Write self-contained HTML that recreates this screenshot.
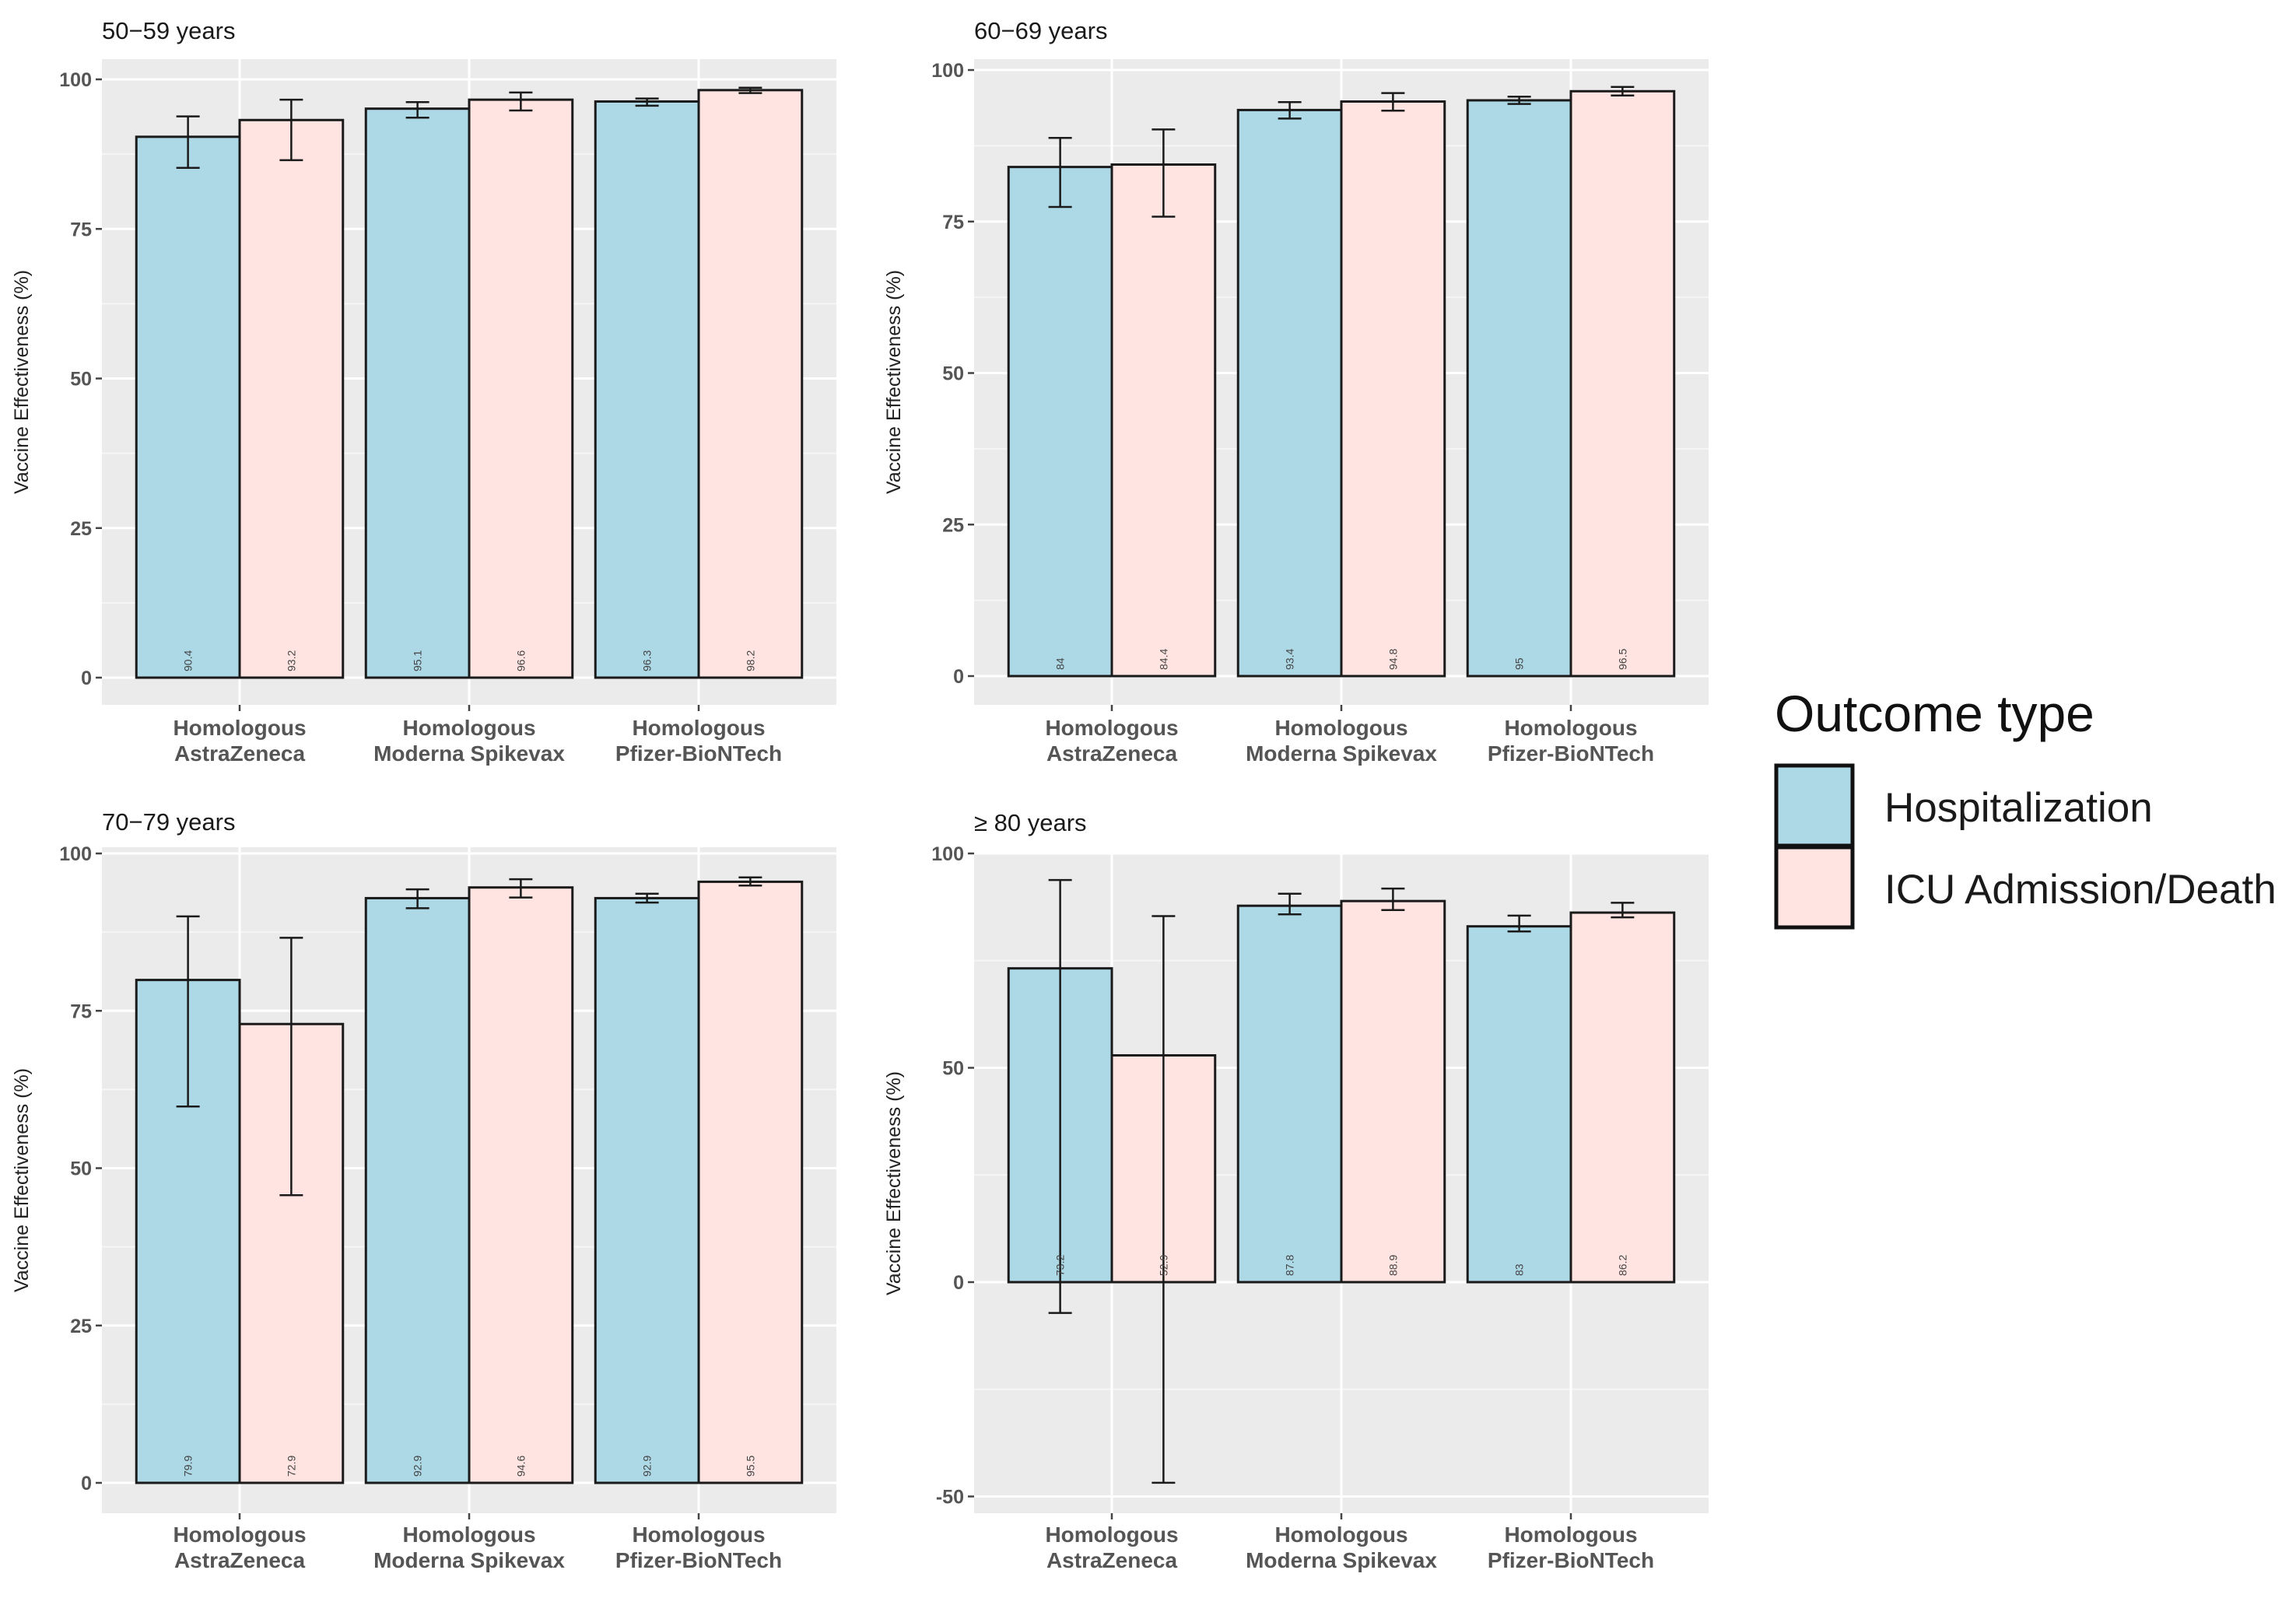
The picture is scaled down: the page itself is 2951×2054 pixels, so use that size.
<!DOCTYPE html>
<html><head><meta charset="utf-8"><style>
html,body{margin:0;padding:0;background:#fff;}
svg{display:block;font-family:"Liberation Sans",Arial,sans-serif;}
</style></head><body>
<svg id="chart" width="2951" height="2054" viewBox="0 0 2951 2054" xmlns="http://www.w3.org/2000/svg">
<rect x="0" y="0" width="2951" height="2054" fill="#ffffff"/>
<g id="panels"></g>
<g>
  <text x="2281" y="940" font-size="66" fill="#111">Outcome type</text>
  <rect x="2283" y="984" width="98" height="103" fill="#ADD8E6" stroke="#111" stroke-width="5"/>
  <rect x="2283" y="1089" width="98" height="103" fill="#FFE4E1" stroke="#111" stroke-width="5"/>
  <text x="2422" y="1056" font-size="53" fill="#1a1a1a">Hospitalization</text>
  <text x="2422" y="1161" font-size="53" fill="#1a1a1a">ICU Admission/Death</text>
</g>
</svg>
<script>
const categories = ["Homologous|AstraZeneca","Homologous|Moderna Spikevax","Homologous|Pfizer-BioNTech"];
const panelTitles = ["50\u221259 years","60\u221269 years","70\u221279 years","\u2265 80 years"];
const hospValues = [[90.4,95.1,96.3],[84,93.4,95],[79.9,92.9,92.9],[73.2,87.8,83]];
const icuValues  = [[93.2,96.6,98.2],[84.4,94.8,96.5],[72.9,94.6,95.5],[52.9,88.9,86.2]];
const hospLow  = [[85.2,93.6,95.6],[77.4,92.0,94.4],[59.8,91.3,92.2],[-7.2,85.8,81.8]];
const hospHigh = [[93.8,96.2,96.8],[88.8,94.7,95.6],[90.0,94.3,93.6],[93.8,90.6,85.5]];
const icuLow   = [[86.5,94.8,97.7],[75.8,93.3,95.8],[45.7,93.0,94.9],[-46.8,86.8,85.1]];
const icuHigh  = [[96.6,97.8,98.6],[90.2,96.2,97.2],[86.6,95.9,96.2],[85.4,91.8,88.5]];
const tickLabels = [[0,25,50,75,100],[0,25,50,75,100],[0,25,50,75,100],[-50,0,50,100]];
const hospLabels = [["90.4","95.1","96.3"],["84","93.4","95"],["79.9","92.9","92.9"],["73.2","87.8","83"]];
const icuLabels  = [["93.2","96.6","98.2"],["84.4","94.8","96.5"],["72.9","94.6","95.5"],["52.9","88.9","86.2"]];

const layout = [
  {x:131,w:944,top:76,bot:906,y0:871,y100:102,tb:50,lb:945},
  {x:1252,w:944,top:76,bot:906,y0:869,y100:90,tb:50,lb:945},
  {x:131,w:944,top:1089,bot:1945,y0:1906,y100:1097,tb:1067,lb:1982},
  {x:1252,w:944,top:1097,bot:1945,y0:1648,y100:1097,tb:1068,lb:1982}
];
const NS="http://www.w3.org/2000/svg";
const root=document.getElementById('panels');
function mk(tag,attrs,parent){const e=document.createElementNS(NS,tag);for(const k in attrs)e.setAttribute(k,attrs[k]);parent.appendChild(e);return e;}

layout.forEach((L,p)=>{
  const g=mk('g',{},root);
  
  
  const yS=v=>L.y0-(v/100)*(L.y0-L.y100);
  const step=L.w/3.2;
  const xC=i=>L.x+step*(0.6+i);
  const bw=step*0.45;
  const bg=mk('rect',{x:L.x,y:L.top,width:L.w,height:L.bot-L.top,fill:'#EBEBEB'},g);
  
  
  const ticks=tickLabels[p];
  const tstep=ticks[1]-ticks[0];
  for(let i=0;i<=ticks.length;i++){
    const v=ticks[0]+tstep*(i-0.5);
    const y=yS(v);
    if(y>L.top&&y<L.bot){const m=mk('line',{x1:L.x,x2:L.x+L.w,y1:y,y2:y,stroke:'#F6F6F6','stroke-width':2},g);
      
      }
  }
  ticks.forEach(v=>{
    const y=yS(v);
    const gl=mk('line',{x1:L.x,x2:L.x+L.w,y1:y,y2:y,stroke:'#ffffff','stroke-width':3},g);
    
    
    const tk=mk('line',{x1:L.x-8,x2:L.x,y1:y,y2:y,stroke:'#444','stroke-width':2.5},g);
    
    
    const tl=mk('text',{x:L.x-13,y:y+9,'font-size':25,'font-weight':'bold','text-anchor':'end',fill:'#555'},g);
    tl.textContent=String(v);
    
    
  });
  categories.forEach((c,i)=>{
    const x=xC(i);
    const vg=mk('line',{x1:x,x2:x,y1:L.top,y2:L.bot,stroke:'#ffffff','stroke-width':3},g);
    
    
    const tk=mk('line',{x1:x,x2:x,y1:L.bot,y2:L.bot+8,stroke:'#444','stroke-width':2.5},g);
    
    
    const parts=c.split('|');
    parts.forEach((t,k)=>{
      const tx=mk('text',{x:x,y:L.lb+k*33,'font-size':28,'font-weight':'bold','text-anchor':'middle',fill:'#555'},g);
      tx.textContent=t;
      
      
    });
  });
  const series=[
    {vals:hospValues[p],lo:hospLow[p],hi:hospHigh[p],lab:hospLabels[p],fill:'#ADD8E6',off:-1,name:'hospitalization'},
    {vals:icuValues[p],lo:icuLow[p],hi:icuHigh[p],lab:icuLabels[p],fill:'#FFE4E1',off:0,name:'icu'}
  ];
  series.forEach(s=>{
    s.vals.forEach((v,i)=>{
      const bx=xC(i)+s.off*bw;
      const yt=yS(Math.max(v,0)),yb=yS(Math.min(v,0));
      const r=mk('rect',{x:bx,y:yt,width:bw,height:yb-yt,fill:s.fill,stroke:'#1a1a1a','stroke-width':3},g);
      
      
    });
  });
  series.forEach(s=>{
    s.vals.forEach((v,i)=>{
      const cx=xC(i)+s.off*bw+bw/2;
      const yl=yS(s.lo[i]),yh=yS(s.hi[i]);
      const eg=mk('g',{stroke:'#1a1a1a','stroke-width':2.5},g);
      
      
      mk('line',{x1:cx,x2:cx,y1:yh,y2:yl},eg);
      mk('line',{x1:cx-15,x2:cx+15,y1:yh,y2:yh},eg);
      mk('line',{x1:cx-15,x2:cx+15,y1:yl,y2:yl},eg);
      const t=mk('text',{x:0,y:0,'font-size':14,fill:'#444',transform:`translate(${cx+5},${L.y0-8}) rotate(-90)`},g);
      t.textContent=s.lab[i];
      
      
    });
  });
  const tt=mk('text',{x:L.x,y:L.tb,'font-size':31,fill:'#1a1a1a'},g);
  tt.textContent=panelTitles[p];
  
  
  const cy=(L.top+L.bot)/2;
  const yt=mk('text',{x:0,y:0,'font-size':25,fill:'#222','text-anchor':'middle',transform:`translate(${L.x-95},${cy}) rotate(-90)`},g);
  yt.textContent='Vaccine Effectiveness (%)';
  
  
});
</script>
</body></html>
